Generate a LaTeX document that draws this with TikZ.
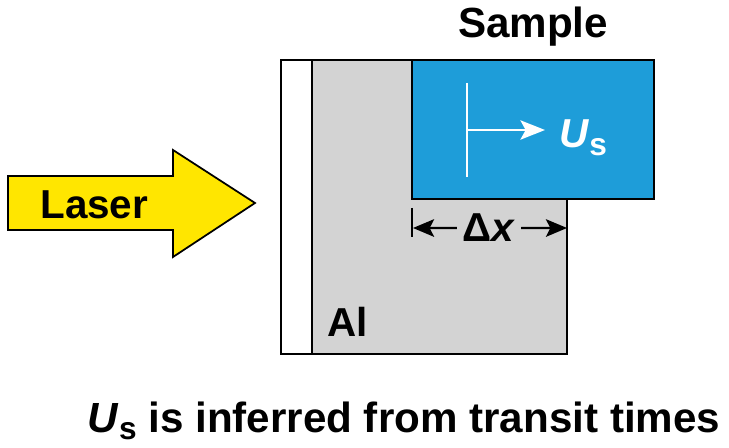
\documentclass[tikz,border=0pt]{standalone}
\usepackage{fontspec}
\setmainfont{Liberation Sans}
\usetikzlibrary{arrows.meta,positioning}
\definecolor{laseryellow}{HTML}{FFE600}
\definecolor{sampleblue}{HTML}{1E9DD9}
\definecolor{algray}{HTML}{D3D3D3}
\newcommand{\Ushock}{\textit{U}\raisebox{-0.35ex}{\fontsize{18}{18}\selectfont s}}
\begin{document}
\begin{tikzpicture}[x=0.02cm,y=-0.02cm,
  lbl/.style={font=\bfseries\fontsize{23}{23}\selectfont, inner sep=0pt},
  tip/.style={-{Stealth[length=12pt,width=10pt,inset=2.5pt]}}]
\path[use as bounding box] (0,0) rectangle (729,448);
% aluminium pusher with ablator
\draw[line width=1.3pt, fill=white] (281,60) rectangle (312,354);
\draw[line width=1.3pt, fill=algray] (312,60) rectangle (567,354);
% sample
\draw[line width=1.3pt, fill=sampleblue] (412,60) rectangle (654,199);
\node[lbl, font=\bfseries\fontsize{24}{24}\selectfont, anchor=base] (sample) at (533,38) {Sample};
\node[lbl, anchor=base west] (al) at (327,337) {Al};
% laser
\draw[line width=1pt, fill=laseryellow] (8,176) -- (173,176) -- (173,150) -- (255,203)
  -- (173,257) -- (173,230) -- (8,230) -- cycle;
\node[lbl, anchor=base west] (laser) at (40,219) {Laser};
% shock front
\draw[white, line width=1.2pt] (467,83) -- (467,177);
\coordinate (front) at (467,130);
\node[lbl, text=white, anchor=base west] (us) at (559,148) {\Ushock};
\draw[white, line width=1.2pt, -{Stealth[length=14pt,width=11pt,inset=3pt]}] (front) -- (545,130);
% transit distance
\draw[line width=1.2pt] (412,208) -- (412,237);
\node[lbl, anchor=base, inner xsep=3pt] (dx) at (489,242) {Δ\textit{x}};
\coordinate (dxl) at (413,228);
\coordinate (dxr) at (567,228);
\draw[line width=1.2pt, tip] (dx) -- (dxl);
\draw[line width=1.2pt, tip] (dx) -- (dxr);
% caption
\node[lbl, font=\bfseries\fontsize{24}{24}\selectfont, anchor=base] (caption) at (404,432) {\Ushock{} is inferred from transit times};
\end{tikzpicture}
\end{document}
